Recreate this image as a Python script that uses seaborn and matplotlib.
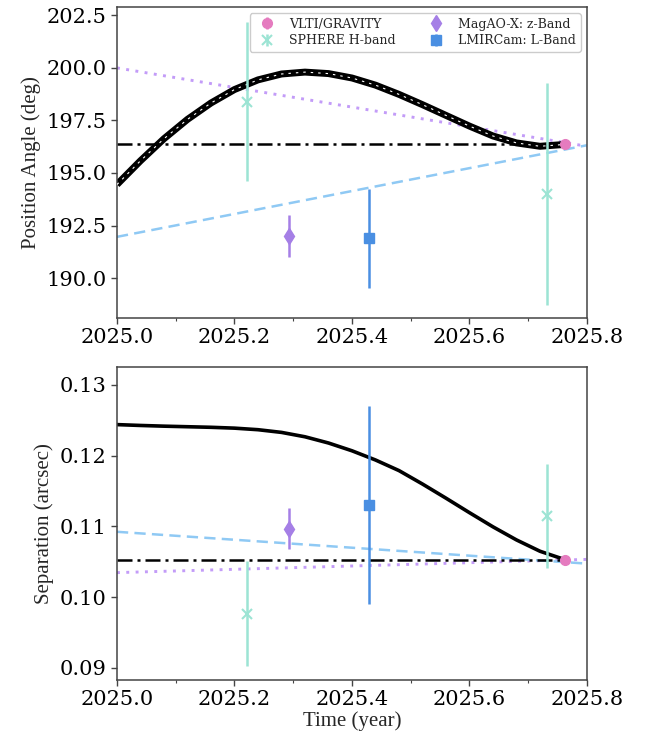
import numpy as np
import pandas as pd
import matplotlib
matplotlib.use("Agg")
import matplotlib.pyplot as plt
from matplotlib.ticker import MultipleLocator, FormatStrFormatter
import seaborn as sns

# ---- astrometry measurements ----
gravity_t = [2025.763]
gravity_pa = [196.4]
gravity_pa_err = [0.05]
gravity_sep = [0.1053]
gravity_sep_err = [0.0003]

sphere_t = [2025.222, 2025.7325]
sphere_pa = [198.39, 194.0]
sphere_pa_err = [3.78, 5.28]
sphere_sep = [0.0977, 0.11155]
sphere_sep_err = [0.0074, 0.00735]

magaox_t = [2025.292]
magaox_pa = [192.0]
magaox_pa_err = [1.0]
magaox_sep = [0.1097]
magaox_sep_err = [0.0029]

lmircam_t = [2025.429]
lmircam_pa = [191.9]
lmircam_pa_err = [2.36]
lmircam_sep = [0.11305]
lmircam_sep_err = [0.01395]

# ---- orbit model tracks ----
orbit_t = [2025.00, 2025.04, 2025.08, 2025.12, 2025.16, 2025.20, 2025.24,
           2025.28, 2025.32, 2025.36, 2025.40, 2025.44, 2025.48, 2025.52,
           2025.56, 2025.60, 2025.64, 2025.68, 2025.72, 2025.763]
orbit_pa = [194.45, 195.58, 196.63, 197.55, 198.33, 198.97, 199.43,
            199.71, 199.80, 199.73, 199.52, 199.18, 198.74, 198.25,
            197.74, 197.23, 196.76, 196.43, 196.27, 196.36]
orbit_sep = [0.12440, 0.12428, 0.12418, 0.12410, 0.12402, 0.12390, 0.12368,
             0.12330, 0.12268, 0.12180, 0.12070, 0.11940, 0.11790, 0.11600,
             0.11400, 0.11195, 0.10995, 0.10810, 0.10650, 0.10530]

# ---- linear motion tracks ----
linear_t = [2025.0, 2025.8]
pa_track_a = [200.0, 196.27]      # dotted
pa_track_b = [191.96, 196.32]     # dashed
sep_track_a = [0.10348, 0.10535]  # dotted
sep_track_b = [0.10925, 0.10475]  # dashed
static_t = [2025.0, 2025.763]
static_pa = [196.4, 196.4]
static_sep = [0.1053, 0.1053]

# ---- styling ----
sns.set_style("ticks")
plt.rcParams["font.family"] = ["DejaVu Serif"]
plt.rcParams["axes.edgecolor"] = "#444444"
plt.rcParams["xtick.color"] = "#444444"
plt.rcParams["ytick.color"] = "#444444"
plt.rcParams["xtick.labelcolor"] = "black"
plt.rcParams["ytick.labelcolor"] = "black"

c_gravity = "#e57bbf"
c_sphere = "#9ce4d4"
c_magaox = "#a57fe6"
c_lmircam = "#4a8fe2"
c_dotted = "#c39cf8"
c_dashed = "#8fc9f4"

label_font = dict(family="Liberation Serif", size=15)

fig = plt.figure(figsize=(6.52, 7.41), dpi=100)
ax1 = fig.add_axes([0.1794, 0.5709, 0.7209, 0.4197])
ax2 = fig.add_axes([0.1794, 0.0823, 0.7209, 0.4224])


def draw_panel(ax, track_a, track_b, static_vals, orbit_vals, banded,
               meas):
    sns.lineplot(x=linear_t, y=track_a, ax=ax, color=c_dotted, lw=2.1,
                 linestyle=(0, (1, 2.2)), sort=False)
    sns.lineplot(x=linear_t, y=track_b, ax=ax, color=c_dashed, lw=1.8,
                 linestyle=(0, (4.5, 2.5)), sort=False)
    sns.lineplot(x=static_t, y=static_vals, ax=ax, color="black", lw=1.8,
                 linestyle=(0, (6, 2, 1.2, 2)), sort=False)
    if banded:
        sns.lineplot(x=orbit_t, y=orbit_vals, ax=ax, color="black", lw=5.0,
                     sort=False, solid_capstyle="butt",
                     solid_joinstyle="round")
        ax.plot(orbit_t, orbit_vals, color="white", lw=0.8,
                dashes=(2.2, 4.5), zorder=3)
    else:
        sns.lineplot(x=orbit_t, y=orbit_vals, ax=ax, color="black", lw=2.6,
                     sort=False, solid_joinstyle="round")

    handles = []
    for t, v, e, col, mk, ms, mew, lab in meas:
        h = ax.errorbar(t, v, yerr=e, fmt=mk, color=col, ms=ms, mew=mew,
                        elinewidth=1.8, capsize=0, label=lab, zorder=5)
        handles.append(h)
    return handles


meas_pa = [
    (gravity_t, gravity_pa, gravity_pa_err, c_gravity, "o", 7, 1, "VLTI/GRAVITY"),
    (sphere_t, sphere_pa, sphere_pa_err, c_sphere, "x", 7, 1.5, "SPHERE H-band"),
    (magaox_t, magaox_pa, magaox_pa_err, c_magaox, "d", 8, 1, "MagAO-X: z-Band"),
    (lmircam_t, lmircam_pa, lmircam_pa_err, c_lmircam, "s", 7.5, 1, "LMIRCam: L-Band"),
]
meas_sep = [
    (gravity_t, gravity_sep, gravity_sep_err, c_gravity, "o", 7, 1, "VLTI/GRAVITY"),
    (sphere_t, sphere_sep, sphere_sep_err, c_sphere, "x", 7, 1.5, "SPHERE H-band"),
    (magaox_t, magaox_sep, magaox_sep_err, c_magaox, "d", 8, 1, "MagAO-X: z-Band"),
    (lmircam_t, lmircam_sep, lmircam_sep_err, c_lmircam, "s", 7.5, 1, "LMIRCam: L-Band"),
]

handles = draw_panel(ax1, pa_track_a, pa_track_b, static_pa, orbit_pa, True, meas_pa)
draw_panel(ax2, sep_track_a, sep_track_b, static_sep, orbit_sep, False, meas_sep)

ax1.set_ylim(188.1, 202.9)
ax2.set_ylim(0.0883, 0.13254)
ax1.yaxis.set_major_locator(MultipleLocator(2.5))
ax1.yaxis.set_major_formatter(FormatStrFormatter("%.1f"))
ax2.yaxis.set_major_locator(MultipleLocator(0.01))
ax2.yaxis.set_major_formatter(FormatStrFormatter("%.2f"))

for ax in (ax1, ax2):
    ax.set_xlim(2025.0, 2025.8)
    ax.xaxis.set_major_locator(MultipleLocator(0.2))
    ax.xaxis.set_minor_locator(MultipleLocator(0.1))
    ax.xaxis.set_major_formatter(FormatStrFormatter("%.1f"))
    ax.tick_params(axis="both", which="major", labelsize=15, length=4,
                   width=1, direction="out")
    ax.tick_params(axis="x", which="minor", length=2.5, width=0.8)
    for s in ax.spines.values():
        s.set_linewidth(1.1)
        s.set_visible(True)

ax1.set_ylabel("Position Angle (deg)", fontdict=label_font)
ax2.set_ylabel("Separation (arcsec)", fontdict=label_font)
ax2.set_xlabel("Time (year)", fontdict=label_font, labelpad=1)
ax1.set_xlabel("")

leg = ax1.legend(handles=handles, loc="upper right", ncol=2, fontsize=9,
                 frameon=True, framealpha=1, edgecolor="#cccccc",
                 borderaxespad=0.5, columnspacing=2.2, handletextpad=0.8,
                 borderpad=0.35, labelspacing=0.3)

fig.savefig("out.png", dpi=100)
